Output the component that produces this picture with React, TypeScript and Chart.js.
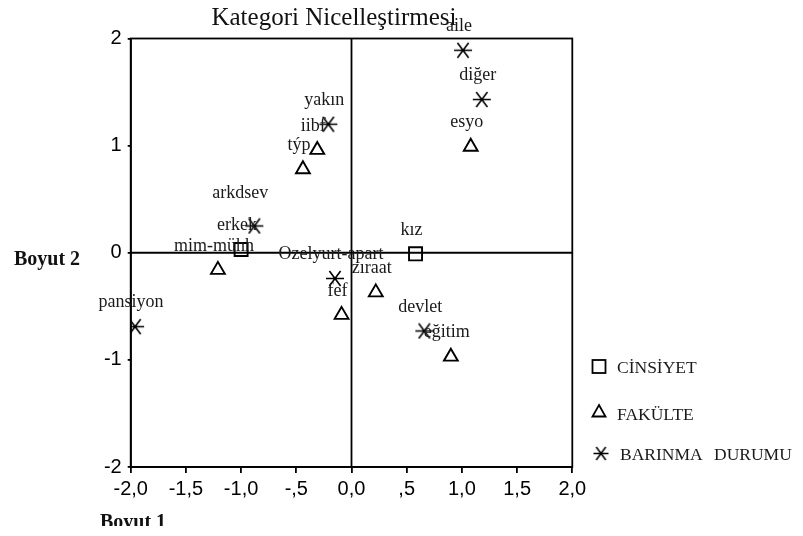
import React, { useEffect, useRef } from 'react';
import { Chart, registerables } from 'chart.js';

Chart.register(...registerables);

const seriesNames = ['CİNSİYET', 'FAKÜLTE', 'BARINMA DURUMU'];

const cinsiyetLabels = ['erkek', 'kız'];
const cinsiyetX = [-1.0, 0.58];
const cinsiyetY = [0.03, -0.01];

const fakulteLabels = ['esyo', 'iibf', 'týp', 'mim-mühh', 'zıraat', 'fef', 'eğitim'];
const fakulteX = [1.08, -0.31, -0.44, -1.21, 0.22, -0.09, 0.9];
const fakulteY = [0.99, 0.96, 0.78, -0.16, -0.37, -0.58, -0.97];

const barinmaLabels = ['aile', 'diğer', 'yakın', 'arkdsev', 'Ozelyurt-apart', 'pansiyon', 'devlet'];
const barinmaX = [1.01, 1.18, -0.21, -0.88, -0.15, -1.96, 0.66];
const barinmaY = [1.89, 1.43, 1.2, 0.25, -0.24, -0.69, -0.73];

const xTickLabels = ['-2,0', '-1,5', '-1,0', '-,5', '0,0', ',5', '1,0', '1,5', '2,0'];
const yTickLabels = ['-2', '-1', '0', '1', '2'];

const chartTitle = 'Kategori Nicelleştirmesi';
const xAxisTitle = 'Boyut 1';
const yAxisTitle = 'Boyut 2';

const W = 803;
const H = 536;
const SERIF = '"Liberation Serif", "Times New Roman", serif';
const SANS = '"Liberation Sans", Arial, sans-serif';

function makeAsterisk(w: number, h: number, lw: number): HTMLCanvasElement {
  const c = document.createElement('canvas');
  c.width = w;
  c.height = h;
  const g = c.getContext('2d')!;
  g.strokeStyle = '#000';
  g.lineWidth = lw;
  const cx = w / 2;
  const cy = h / 2;
  g.beginPath();
  g.moveTo(1, cy);
  g.lineTo(w - 1, cy);
  g.moveTo(cx - w * 0.28, 1);
  g.lineTo(cx + w * 0.28, h - 1);
  g.moveTo(cx + w * 0.28, 1);
  g.lineTo(cx - w * 0.28, h - 1);
  g.stroke();
  return c;
}

const labelNudge: Record<string, [number, number]> = {
  arkdsev: [-10, -9],
};

export default function App() {
  const ref = useRef<HTMLCanvasElement | null>(null);

  useEffect(() => {
    document.body.style.margin = '0';
    const canvas = ref.current;
    if (!canvas) return;

    const asterisk = makeAsterisk(20, 17, 1.6);
    const legendAsterisk = makeAsterisk(17, 15, 1.5);

    const allLabels = [cinsiyetLabels, fakulteLabels, barinmaLabels];

    const decor = {
      id: 'decor',
      beforeDraw(chart: any) {
        const ctx = chart.ctx;
        ctx.save();
        ctx.fillStyle = '#fff';
        ctx.fillRect(0, 0, chart.width, chart.height);
        ctx.restore();
      },
      beforeDatasetsDraw(chart: any) {
        const { ctx, chartArea: a, scales } = chart;
        ctx.save();
        ctx.strokeStyle = '#000';
        ctx.lineWidth = 1.8;
        ctx.strokeRect(a.left, a.top, a.right - a.left, a.bottom - a.top);
        const x0 = scales.x.getPixelForValue(0);
        const y0 = scales.y.getPixelForValue(0);
        ctx.beginPath();
        ctx.moveTo(x0, a.top);
        ctx.lineTo(x0, a.bottom);
        ctx.moveTo(a.left, y0);
        ctx.lineTo(a.right, y0);
        ctx.stroke();
        ctx.restore();
      },
      afterDatasetsDraw(chart: any) {
        const ctx = chart.ctx;
        ctx.save();
        ctx.font = `18px ${SERIF}`;
        ctx.fillStyle = '#1a1a1a';
        ctx.textAlign = 'center';
        ctx.textBaseline = 'middle';
        allLabels.forEach((labels, i) => {
          const meta = chart.getDatasetMeta(i);
          meta.data.forEach((el: any, j: number) => {
            const name = labels[j];
            const n = labelNudge[name] || [0, 0];
            ctx.fillText(name, el.x - 4 + n[0], el.y - 24 + n[1]);
          });
        });
        ctx.restore();
      },
      afterDraw(chart: any) {
        const ctx = chart.ctx;
        ctx.save();
        ctx.fillStyle = '#111';
        ctx.textBaseline = 'alphabetic';
        ctx.font = `25px ${SERIF}`;
        ctx.textAlign = 'center';
        ctx.fillText(chartTitle, 334, 25);
        ctx.font = `bold 20px ${SERIF}`;
        ctx.textAlign = 'left';
        ctx.fillText(yAxisTitle, 14, 265);
        ctx.save();
        ctx.beginPath();
        ctx.rect(0, 0, W, 526);
        ctx.clip();
        ctx.fillText(xAxisTitle, 100, 528);
        ctx.restore();

        ctx.strokeStyle = '#000';
        ctx.lineWidth = 1.8;
        ctx.strokeRect(599 - 6.5, 366.5 - 6.5, 13, 13);
        ctx.beginPath();
        ctx.moveTo(599, 405);
        ctx.lineTo(605.5, 416.5);
        ctx.lineTo(592.5, 416.5);
        ctx.closePath();
        ctx.stroke();
        ctx.drawImage(legendAsterisk, 601 - 8.5, 453.5 - 7.5);

        ctx.font = `17.5px ${SERIF}`;
        ctx.fillStyle = '#1a1a1a';
        ctx.fillText(seriesNames[0], 617, 373);
        ctx.fillText(seriesNames[1], 617, 420);
        (ctx as any).wordSpacing = '7px';
        ctx.fillText(seriesNames[2], 620, 460);
        ctx.restore();
      },
    };

    const chart = new Chart(canvas, {
      type: 'scatter',
      data: {
        datasets: [
          {
            label: seriesNames[0],
            data: cinsiyetX.map((x, i) => ({ x, y: cinsiyetY[i] })),
            pointStyle: 'rect',
            pointRadius: 9.2,
            borderColor: '#000',
            borderWidth: 1.9,
            backgroundColor: 'rgba(0,0,0,0)',
          },
          {
            label: seriesNames[1],
            data: fakulteX.map((x, i) => ({ x, y: fakulteY[i] })),
            pointStyle: 'triangle',
            pointRadius: 8,
            borderColor: '#000',
            borderWidth: 1.9,
            backgroundColor: 'rgba(0,0,0,0)',
          },
          {
            label: seriesNames[2],
            data: barinmaX.map((x, i) => ({ x, y: barinmaY[i] })),
            pointStyle: asterisk as any,
            pointRadius: 9,
            borderColor: '#000',
            backgroundColor: 'rgba(0,0,0,0)',
          },
        ],
      },
      options: {
        responsive: false,
        animation: false,
        events: [],
        layout: { padding: { left: 0, right: W - 572.3, top: 38.5, bottom: 0 } },
        plugins: {
          legend: { display: false },
          title: { display: false },
          tooltip: { enabled: false },
        },
        scales: {
          x: {
            type: 'linear',
            min: -2,
            max: 2,
            afterFit: (s: any) => {
              s.height = H - 467;
            },
            ticks: {
              stepSize: 0.5,
              autoSkip: false,
              maxRotation: 0,
              padding: 4,
              color: '#000',
              font: { family: SANS, size: 20 },
              callback: (_v: any, i: number) => xTickLabels[i],
            },
            grid: {
              display: true,
              drawOnChartArea: false,
              drawTicks: true,
              tickLength: 6,
              color: '#000',
              lineWidth: 1.8,
            },
            border: { display: true, color: '#000', width: 1.8 },
          },
          y: {
            type: 'linear',
            min: -2,
            max: 2,
            afterFit: (s: any) => {
              s.width = 130.7;
            },
            ticks: {
              stepSize: 1,
              autoSkip: false,
              padding: 6,
              color: '#000',
              font: { family: SANS, size: 20 },
              callback: (_v: any, i: number) => yTickLabels[i],
            },
            grid: {
              display: true,
              drawOnChartArea: false,
              drawTicks: true,
              tickLength: 3,
              color: '#000',
              lineWidth: 1.8,
            },
            border: { display: true, color: '#000', width: 1.8 },
          },
        },
      },
      plugins: [decor],
    } as any);

    return () => {
      chart.destroy();
    };
  }, []);

  return (
    <canvas
      ref={ref}
      width={W}
      height={H}
      style={{ display: 'block', width: W, height: H }}
    />
  );
}
